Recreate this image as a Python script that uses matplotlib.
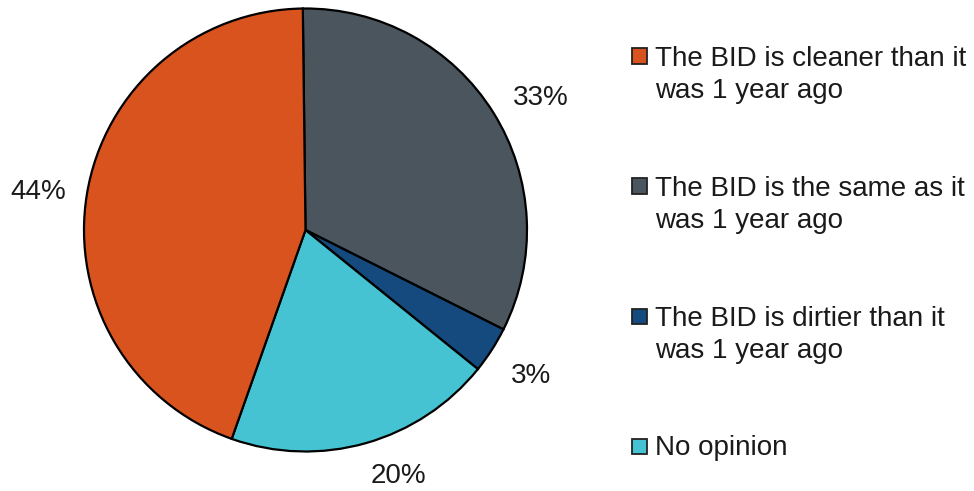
"""
Pie chart: how clean the BID is compared with a year ago.
"""

import matplotlib
matplotlib.use("Agg")
import matplotlib.pyplot as plt
from matplotlib.patches import Rectangle

plt.rcParams["font.family"] = ["Liberation Sans", "DejaVu Sans"]

# ---------------------------------------------------------------------------
# Data (legend order)
# ---------------------------------------------------------------------------
CATEGORIES = [
    "The BID is cleaner than it\nwas 1 year ago",
    "The BID is the same as it\nwas 1 year ago",
    "The BID is dirtier than it\nwas 1 year ago",
    "No opinion",
]
SHARES = [44.4, 32.6, 3.4, 19.6]
COLORS = ["#D9531E", "#4A555E", "#154A7E", "#46C3D2"]

# slices are drawn clockwise from the top starting with "same"
DRAW_ORDER = [1, 2, 3, 0]

W, H = 974, 491
fig = plt.figure(figsize=(W / 100, H / 100), dpi=100)
fig.patch.set_facecolor("white")

cx, cy, r = 305.5, 230, 221.5
ax = fig.add_axes([(cx - r) / W, (H - cy - r) / H, 2 * r / W, 2 * r / H])

vals = [SHARES[i] for i in DRAW_ORDER]
cols = [COLORS[i] for i in DRAW_ORDER]
labels = [f"{v:.0f}%" for v in vals]

wedges, texts = ax.pie(
    vals, colors=cols, labels=labels, startangle=90.7, counterclock=False,
    labeldistance=1.22, radius=1,
    wedgeprops=dict(edgecolor="black", linewidth=1.6),
    textprops=dict(fontsize=20, color="#1a1a1a"),
)
# Excel "best fit" label spots (pixel centres in the reference)
label_px = [(541, 98), (531, 376), (398, 476), (38, 192)]
for t, (px, py) in zip(texts, label_px):
    t.set_position(((px - cx) / r, (cy - py) / r))
    t.set_ha("center")
    t.set_va("center")
ax.set_xlim(-1, 1)
ax.set_ylim(-1, 1)
ax.set_aspect("equal")
ax.axis("off")

# ---------------------------------------------------------------------------
# Legend (drawn by hand so the marker sits on the first text line)
# ---------------------------------------------------------------------------
first_y = 56
step = 130
for k, (lab, col) in enumerate(zip(CATEGORIES, COLORS)):
    y = first_y + k * step
    fig.patches.append(Rectangle((632 / W, (H - y - 7.5) / H), 15 / W, 15 / H,
                                 transform=fig.transFigure, facecolor=col,
                                 edgecolor="#222222", linewidth=1.3))
    if "\n" in lab:
        fig.text(655 / W, (H - y + 10) / H, lab, fontsize=20, color="#1a1a1a",
                 ha="left", va="top", linespacing=1.28)
    else:
        fig.text(655 / W, (H - y - 15) / H, lab, fontsize=20, color="#1a1a1a",
                 ha="left", va="bottom")

fig.savefig("out.png", dpi=100)
